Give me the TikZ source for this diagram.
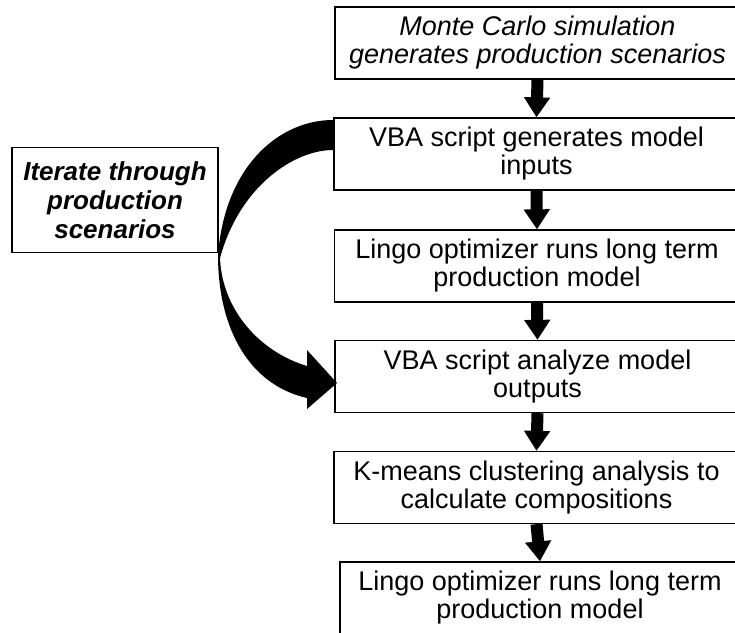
\documentclass[tikz,border=0pt]{standalone}
\usepackage{fontspec}
\setmainfont{Liberation Sans}
\usetikzlibrary{arrows.meta}
\begin{document}
\begin{tikzpicture}[x=1pt,y=-1pt,
  flowbox/.style={draw=black, line width=1.3pt, fill=white, minimum width=405pt, minimum height=72pt, inner sep=0pt, align=center, font=\fontsize{27}{28}\selectfont},
  sidebox/.style={draw=black, line width=1.3pt, minimum width=206pt, minimum height=105pt, inner sep=0pt, align=center, font=\fontsize{26}{29}\selectfont\bfseries\itshape},
  downarrow/.style={line width=12pt, -{Triangle[width=25pt,length=20pt]}}
]
\useasboundingbox (0,0) rectangle (735,632);
\clip (0,0) rectangle (735,632);
\node[flowbox] (b1) at (537.5,43) {\itshape Monte Carlo simulation\\\itshape generates production scenarios};
\node[flowbox] (b2) at (536.5,154) {VBA script generates model\\inputs};
\node[flowbox] (b3) at (537,266) {Lingo optimizer runs long term\\production model};
\node[flowbox] (b4) at (537.5,376.5) {VBA script analyze model\\outputs};
\node[flowbox] (b5) at (536.5,487.5) {K-means clustering analysis to\\calculate compositions};
\node[flowbox, minimum width=400pt] (b6) at (540,598) {Lingo optimizer runs long term\\production model};
\node[sidebox] (it) at (115,200) {Iterate through\\production\\scenarios};
\draw[downarrow] (b1.south) -- (b2.north);
\draw[downarrow] (b2.south) -- (b3.north);
\draw[downarrow] (b3.south) -- (b4.north);
\draw[downarrow] (b4.south) -- (b5.north);
\draw[downarrow] (b5.south) -- (b6.north);
\fill[black] (333,120) .. controls (280,120) and (225,165) .. (218,255)
  .. controls (218,330) and (250,385) .. (307,398)
  -- (307,409) -- (337,383) -- (307,350) -- (307,366)
  .. controls (260,352) and (222,310) .. (220,258)
  .. controls (240,185) and (295,150) .. (333,150) -- cycle;
\end{tikzpicture}
\end{document}
